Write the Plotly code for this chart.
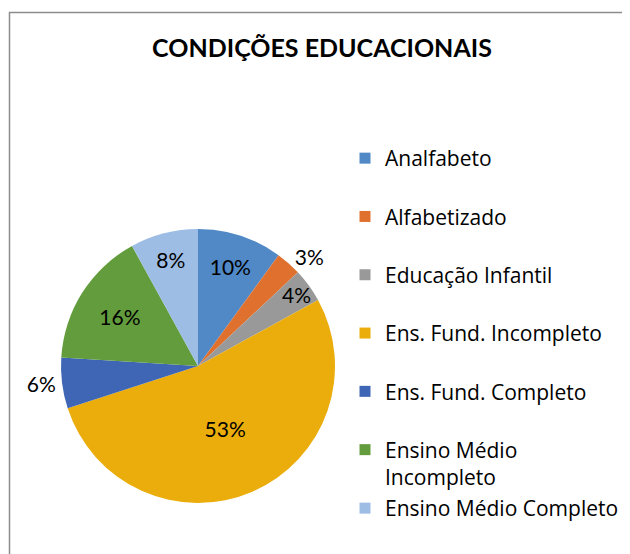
import plotly.graph_objects as go

# Data
labels = ["Analfabeto", "Alfabetizado", "Educação Infantil",
          "Ens. Fund. Incompleto", "Ens. Fund. Completo",
          "Ensino Médio Incompleto", "Ensino Médio Completo"]
legend_names = ["Analfabeto", "Alfabetizado", "Educação Infantil",
                "Ens. Fund. Incompleto", "Ens. Fund. Completo",
                "Ensino Médio<br>Incompleto", "Ensino Médio Completo"]
values = [10, 3, 4, 53, 6, 16, 8]
text_pos = ["inside", "outside", "inside", "inside", "outside", "inside", "inside"]
colors = ["#5089C6", "#E0702E", "#999999", "#EBAD0C",
          "#3E66B5", "#639C3C", "#9EBDE4"]

W, H = 630, 554
OFF = 8  # page body margin
FONT = "Lato, Carlito, Calibri, sans-serif"
LEG_FONT = "'Open Sans', sans-serif"


def px(x):
    return (x - OFF) / W


def py(y):
    return (H - (y - OFF)) / H


fig = go.Figure()

fig.add_trace(go.Pie(
    labels=labels, values=values, sort=False, direction="clockwise",
    rotation=0, showlegend=False,
    marker=dict(colors=colors, line=dict(width=0)),
    texttemplate="%{percent:.0%}", textposition=text_pos,
    insidetextorientation="horizontal",
    textfont=dict(family=FONT, size=21, color="#000000"),
    domain=dict(x=[px(61), px(335)], y=[py(503), py(229)]),
    hoverinfo="label+percent"))

# legend entries, one group each so the spacing can be opened up;
# the last one sits in its own legend (the wrapped item overlaps its slot)
for i, name in enumerate(legend_names):
    fig.add_trace(go.Scatter(
        x=[None], y=[None], mode="markers", name=name,
        legendgroup="g%d" % i,
        legend="legend2" if i == len(legend_names) - 1 else "legend",
        marker=dict(symbol="square", size=11, color=colors[i])))

fig.add_shape(type="rect", xref="paper", yref="paper",
              x0=px(9.5), x1=1.05, y0=-0.05, y1=py(12.5),
              line=dict(color="#8c8c8c", width=1.5), layer="below")

leg_common = dict(xanchor="left", yanchor="top", traceorder="grouped",
                  tracegroupgap=28, maxheight=1, valign="top",
                  font=dict(family=LEG_FONT, size=21, color="#000000"),
                  bgcolor="rgba(0,0,0,0)")

fig.update_layout(
    width=W, height=H,
    margin=dict(l=0, r=0, t=0, b=0, autoexpand=False),
    paper_bgcolor="white", plot_bgcolor="white",
    uniformtext=dict(minsize=21, mode="show"),
    title=dict(text="<b>CONDIÇÕES EDUCACIONAIS</b>", x=px(322), xanchor="center",
               y=py(48), yanchor="middle",
               font=dict(family=FONT, size=25, color="#000000")),
    xaxis=dict(visible=False), yaxis=dict(visible=False),
    legend=dict(x=337 / W, y=(H - 130) / H, **leg_common),
    legend2=dict(x=337 / W, y=(H - 480) / H, **leg_common),
)

fig.write_html("out.html")
